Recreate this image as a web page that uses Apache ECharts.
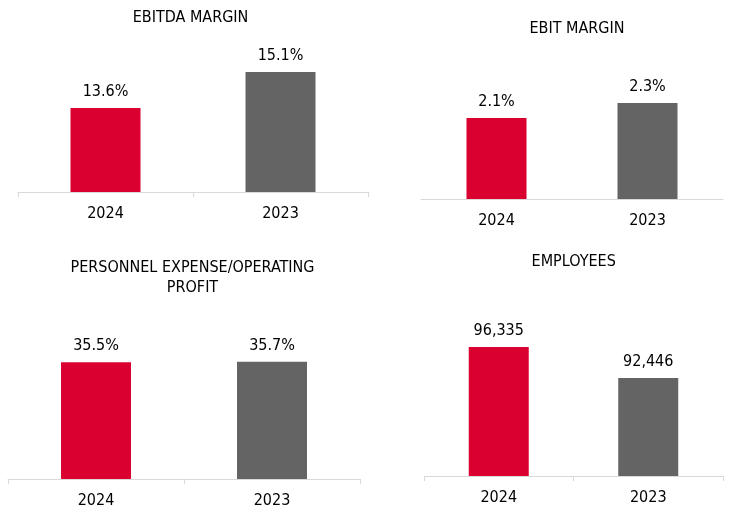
<!DOCTYPE html>
<html>
<head>
<meta charset="utf-8">
<script src="https://cdn.jsdelivr.net/npm/echarts@6/dist/echarts.min.js"></script>
<style>html,body{margin:0;padding:0;background:#fff}#c{width:736px;height:522px}</style>
</head>
<body>
<div id="c"></div>
<script>
var categories = ['2024', '2023'];
var titles = ['EBITDA MARGIN', 'EBIT MARGIN', 'PERSONNEL EXPENSE/OPERATING\nPROFIT', 'EMPLOYEES'];
var ebitdaMargin = [13.6, 15.1];
var ebitMargin = [2.1, 2.3];
var personnelRatio = [35.5, 35.7];
var employees = [96335, 92446];

var RED = '#DA0030', GRAY = '#646464', AXIS = '#D9D9D9';
var FONT = '"DejaVu Sans Condensed", "Liberation Sans", Arial, sans-serif';
var FS = 16;

function pct(p) { return p.value.toFixed(1) + '%'; }
function thousands(p) { return p.value.toLocaleString('en-US'); }

var grids = [
  {left: 18, right: 368, top: 48, bottom: 330},
  {left: 421, right: 13, top: 86.5, bottom: 323},
  {left: 8, right: 376, top: 347.5, bottom: 43},
  {left: 424, right: 13, top: 316.6, bottom: 46}
];
var yRanges = [[10.1, 16.1], [1.02, 2.52], [0, 40], [80150, 100150]];
var showTicks = [true, false, true, true];
var barWidths = [70, 60, 70, 60];
var datasets = [ebitdaMargin, ebitMargin, personnelRatio, employees];
var formatters = [pct, pct, pct, thousands];
var titlePos = [[190.5, 8], [577, 19.3], [192.5, 258.5], [573.7, 252]];

var option = {
  animation: false,
  backgroundColor: '#fff',
  title: titles.map(function (t, i) {
    return {
      text: t, left: titlePos[i][0], top: titlePos[i][1], textAlign: 'center', padding: 0,
      textStyle: {fontFamily: FONT, fontSize: FS, fontWeight: 'normal', color: '#000', lineHeight: 19.5}
    };
  }),
  grid: grids,
  xAxis: grids.map(function (g, i) {
    return {
      type: 'category', gridIndex: i, data: categories,
      axisLine: {lineStyle: {color: AXIS, width: 1}},
      axisTick: {show: showTicks[i], length: 5, lineStyle: {color: AXIS}},
      axisLabel: {margin: 14, fontFamily: FONT, fontSize: FS, color: '#000'}
    };
  }),
  yAxis: grids.map(function (g, i) {
    return {
      type: 'value', gridIndex: i, min: yRanges[i][0], max: yRanges[i][1],
      show: false, splitLine: {show: false}
    };
  }),
  series: datasets.map(function (d, i) {
    return {
      type: 'bar', xAxisIndex: i, yAxisIndex: i, barWidth: barWidths[i],
      data: d.map(function (v, j) { return {value: v, itemStyle: {color: j === 0 ? RED : GRAY}}; }),
      label: {show: true, position: 'top', distance: 8, formatter: formatters[i],
              fontFamily: FONT, fontSize: FS, color: '#000'}
    };
  })
};
echarts.init(document.getElementById('c')).setOption(option);
</script>
</body>
</html>
